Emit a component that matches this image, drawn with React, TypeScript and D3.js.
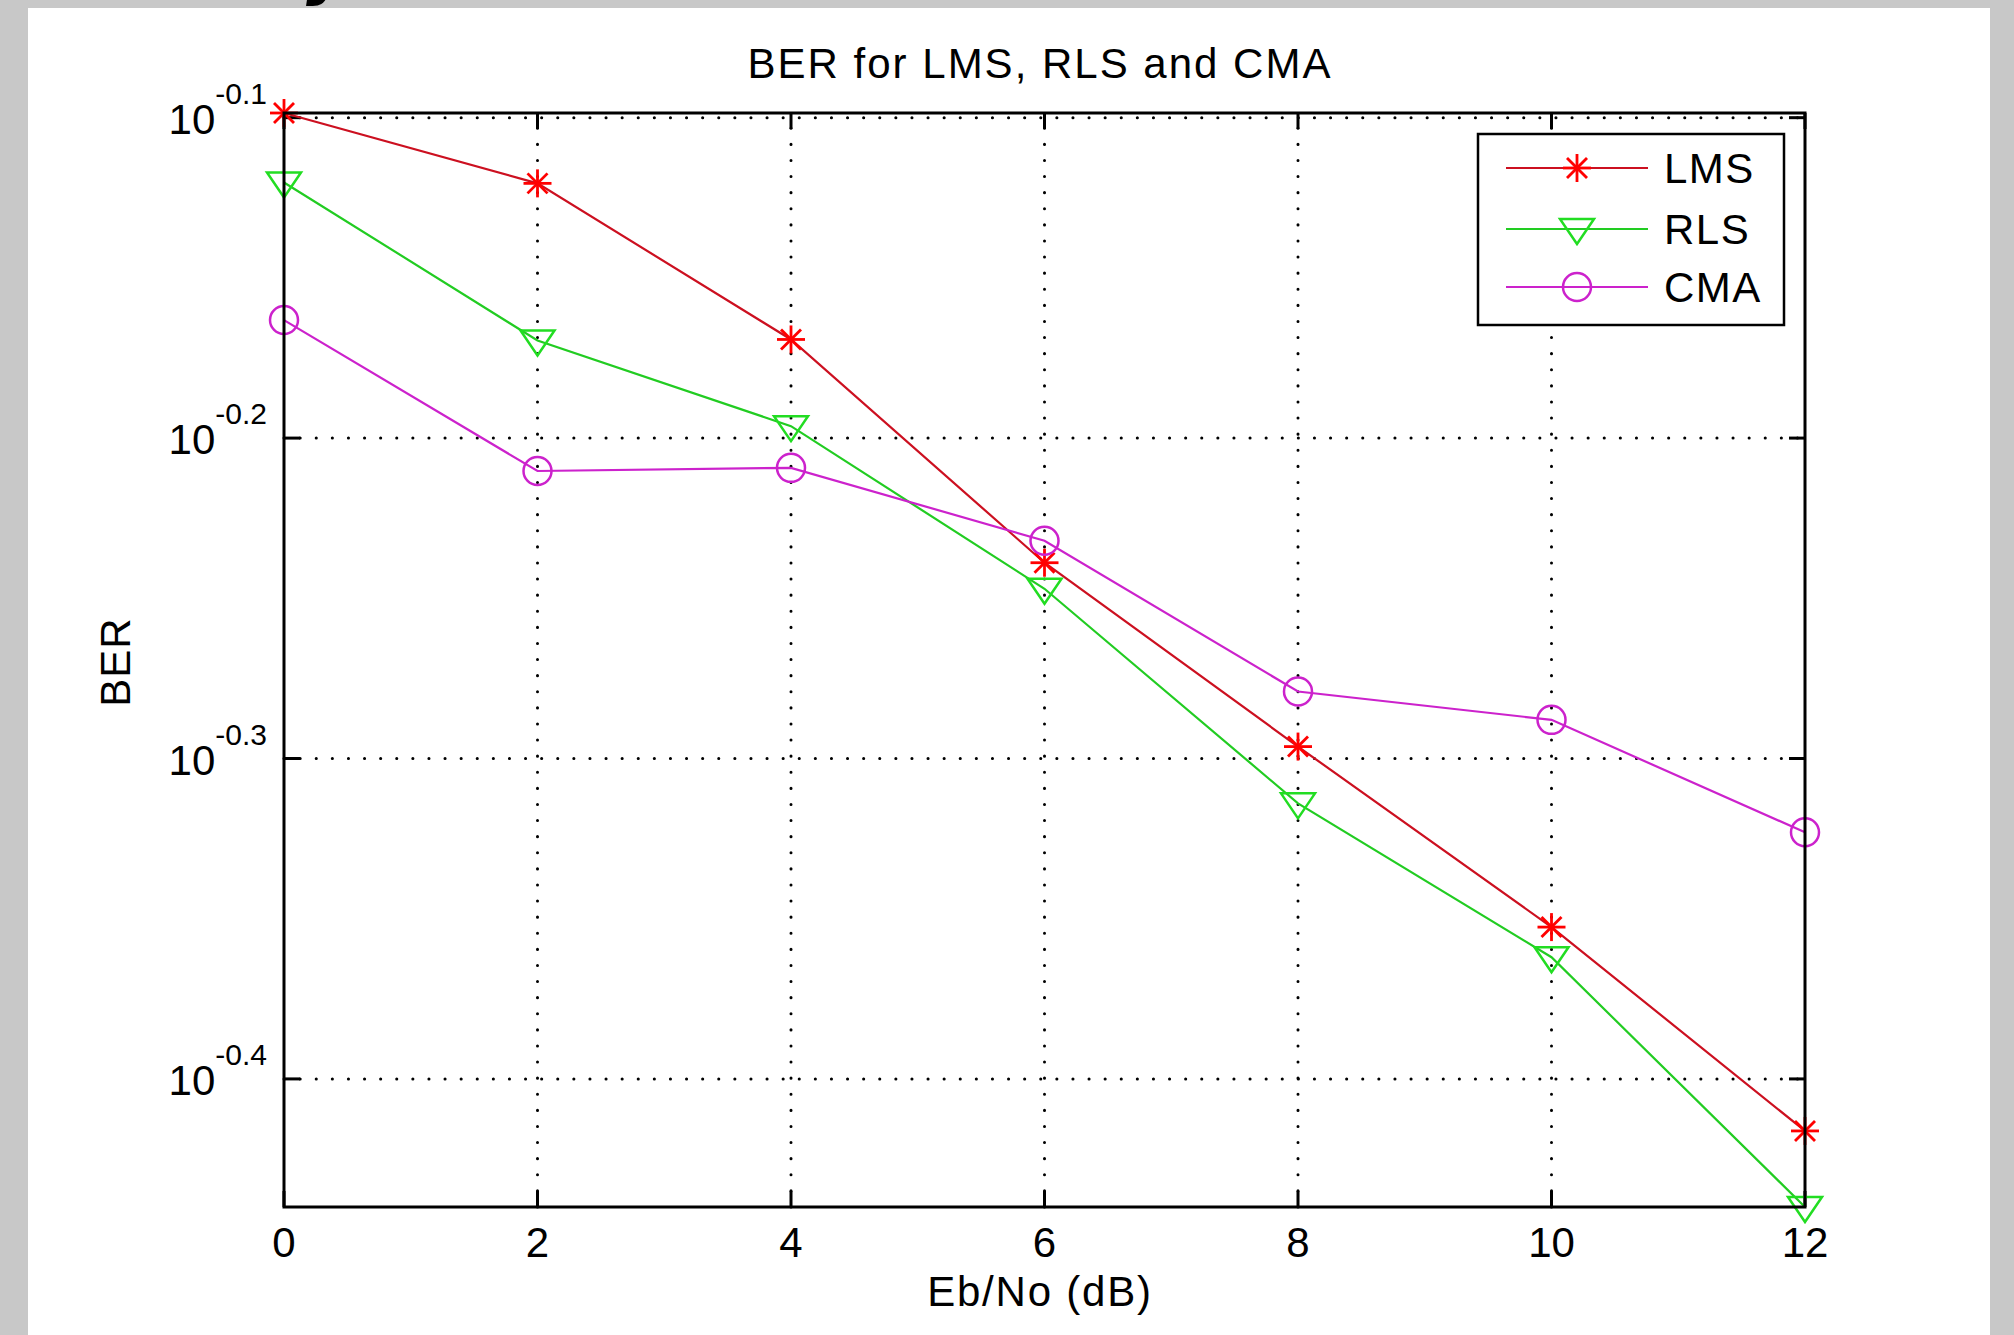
import React from 'react';
import * as d3 from 'd3';

// Eb/No in dB
const ebno = [0, 2, 4, 6, 8, 10, 12];
// bit error rate per equaliser
const lms = [0.797, 0.7577, 0.6773, 0.5769, 0.5055, 0.444, 0.3835];
const rls = [0.7582, 0.6768, 0.6364, 0.5662, 0.4853, 0.4345, 0.3631];
const cma = [0.6868, 0.6162, 0.6176, 0.5861, 0.5259, 0.5153, 0.4753];

const xTicks = [0, 2, 4, 6, 8, 10, 12];
const yTickExps = ['-0.1', '-0.2', '-0.3', '-0.4'];

const seriesNames = ['LMS', 'RLS', 'CMA'];
const seriesData = [lms, rls, cma];
const lineColors = ['#cc1020', '#22cc22', '#cc22cc'];
const markColors = ['#ff0000', '#22dd22', '#cc22cc'];
const markerKinds = ['star', 'tri', 'circle'];

const W = 2014;
const H = 1335;
const left = 284;
const right = 1805;
const top = 113;
const bottom = 1207;
const font = '"Liberation Sans", Arial, Helvetica, sans-serif';

function Marker({ kind, x, y, color }: { kind: string; x: number; y: number; color: string }) {
  if (kind === 'star') {
    const r = 14;
    const d = 10;
    return (
      <g stroke={color} strokeWidth={2.8}>
        <line x1={x - r} y1={y} x2={x + r} y2={y} />
        <line x1={x} y1={y - r} x2={x} y2={y + r} />
        <line x1={x - d} y1={y - d} x2={x + d} y2={y + d} />
        <line x1={x - d} y1={y + d} x2={x + d} y2={y - d} />
      </g>
    );
  }
  if (kind === 'tri') {
    return (
      <polygon
        points={`${x - 17},${y - 10} ${x + 17},${y - 10} ${x},${y + 15}`}
        fill="none"
        stroke={color}
        strokeWidth={2.5}
      />
    );
  }
  return <circle cx={x} cy={y} r={14} fill="none" stroke={color} strokeWidth={2.5} />;
}

export default function App() {
  const all = [...lms, ...rls, ...cma];
  const x = d3.scaleLinear().domain([0, 12]).range([left, right]);
  const y = d3
    .scaleLog()
    .domain([d3.min(all) as number, d3.max(all) as number])
    .range([bottom, top]);

  const line = d3
    .line<number>()
    .x((_, i) => x(ebno[i]))
    .y(v => y(v));

  const yTicks = yTickExps.map(e => ({ e, v: Math.pow(10, +e) }));

  return (
    <svg
      width={W}
      height={H}
      style={{ position: 'absolute', left: 0, top: 0, display: 'block' }}
    >
      <rect x={0} y={0} width={W} height={H} fill="#c8c8c8" />
      <rect x={28} y={8} width={1962} height={H - 8} fill="#ffffff" />
      {/* remnant of a cropped heading above the figure */}
      <text x={306} y={-8} fontSize={66} fontWeight="bold" fontStyle="italic" fontFamily="DejaVu Sans">
        y
      </text>

      {/* grid */}
      <g stroke="#000" strokeWidth={3} strokeLinecap="round" strokeDasharray="0.1 16">
        {xTicks.slice(1, -1).map(t => (
          <line key={'gx' + t} x1={x(t)} x2={x(t)} y1={bottom} y2={top} />
        ))}
        {yTicks.map(t => (
          <line key={'gy' + t.e} x1={left} x2={right} y1={y(t.v)} y2={y(t.v)} />
        ))}
      </g>

      {/* ticks on all four sides, pointing inwards */}
      <g stroke="#000" strokeWidth={3}>
        {xTicks.map(t => (
          <g key={'tx' + t}>
            <line x1={x(t)} x2={x(t)} y1={bottom} y2={bottom - 16} />
            <line x1={x(t)} x2={x(t)} y1={top} y2={top + 16} />
          </g>
        ))}
        {yTicks.map(t => (
          <g key={'ty' + t.e}>
            <line x1={left} x2={left + 16} y1={y(t.v)} y2={y(t.v)} />
            <line x1={right} x2={right - 16} y1={y(t.v)} y2={y(t.v)} />
          </g>
        ))}
      </g>

      {/* series */}
      {seriesData.map((s, k) => (
        <g key={seriesNames[k]}>
          <path d={line(s) || ''} fill="none" stroke={lineColors[k]} strokeWidth={2.2} />
          {s.map((v, i) => (
            <Marker key={i} kind={markerKinds[k]} x={x(ebno[i])} y={y(v)} color={markColors[k]} />
          ))}
        </g>
      ))}

      <rect
        x={left}
        y={top}
        width={right - left}
        height={bottom - top}
        fill="none"
        stroke="#000"
        strokeWidth={3}
      />

      {/* tick labels */}
      <g fontFamily={font} fontSize={42} fill="#000">
        {xTicks.map(t => (
          <text key={'lx' + t} x={x(t)} y={1257} textAnchor="middle">
            {t}
          </text>
        ))}
        {yTicks.map(t => (
          <text key={'ly' + t.e} x={267} y={y(t.v) + 16} textAnchor="end">
            <tspan>10</tspan>
            <tspan dy={-30} fontSize={30}>
              {t.e}
            </tspan>
          </text>
        ))}
        <text x={1040} y={78} textAnchor="middle" letterSpacing={2}>
          BER for LMS, RLS and CMA
        </text>
        <text x={1040} y={1306} textAnchor="middle" letterSpacing={1.8}>
          Eb/No (dB)
        </text>
        <text transform="translate(130,662) rotate(-90)" textAnchor="middle" letterSpacing={1}>
          BER
        </text>
      </g>

      {/* legend */}
      <g>
        <rect x={1478} y={134} width={306} height={191} fill="#fff" stroke="#000" strokeWidth={2.5} />
        {seriesNames.map((n, k) => {
          const ly = [168, 229, 287][k];
          return (
            <g key={'lg' + n}>
              <line x1={1506} x2={1648} y1={ly} y2={ly} stroke={lineColors[k]} strokeWidth={2.2} />
              <Marker kind={markerKinds[k]} x={1577} y={ly} color={markColors[k]} />
              <text x={1664} y={ly + 15} fontFamily={font} fontSize={42} fill="#000" letterSpacing={1.5}>
                {n}
              </text>
            </g>
          );
        })}
      </g>
    </svg>
  );
}
